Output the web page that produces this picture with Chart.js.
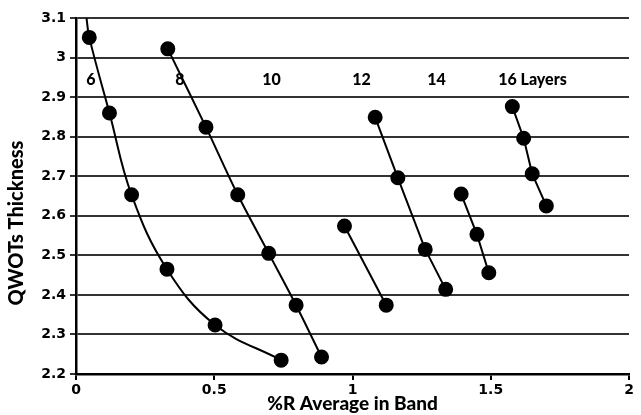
<!DOCTYPE html>
<html>
<head>
    <title>QWOTs Thickness vs %R</title>
    <script src="https://cdn.jsdelivr.net/npm/chart.js"></script>
    <style>
        body {
            margin: 0;
            background: white;
        }
        .chart-container {
            width: 641px;
            height: 415px;
        }
    </style>
</head>
<body>
    <div class="chart-container">
        <canvas id="thicknessChart"></canvas>
    </div>

    <script>
        // layer counts and their curves (x = %R average in band, y = QWOTs thickness)
        const layerLabels = ['6', '8', '10', '12', '14', '16 Layers'];
        const labelX = [0.054, 0.376, 0.707, 1.033, 1.304, 1.651];
        const labelY = 2.944;

        // first point of the 6-layer curve is only the line running off the top
        const r6 = [0.038, 0.048, 0.121, 0.201, 0.329, 0.503, 0.742];
        const t6 = [3.10, 3.051, 2.860, 2.653, 2.465, 2.324, 2.235];
        const r8 = [0.332, 0.470, 0.585, 0.697, 0.796, 0.888];
        const t8 = [3.022, 2.824, 2.653, 2.505, 2.374, 2.243];
        const r10 = [0.971, 1.122];
        const t10 = [2.574, 2.374];
        const r12 = [1.082, 1.164, 1.263, 1.337];
        const t12 = [2.849, 2.696, 2.515, 2.414];
        const r14 = [1.393, 1.450, 1.493];
        const t14 = [2.655, 2.553, 2.456];
        const r16 = [1.578, 1.619, 1.650, 1.701];
        const t16 = [2.876, 2.796, 2.706, 2.625];

        const xTicks = [0, 0.5, 1, 1.5, 2];
        const yTicks = [2.2, 2.3, 2.4, 2.5, 2.6, 2.7, 2.8, 2.9, 3.0, 3.1];

        function toPoints(xs, ys) {
            return xs.map((x, i) => ({ x: x, y: ys[i] }));
        }

        function series(xs, ys, tension, radii) {
            return {
                data: toPoints(xs, ys),
                borderColor: '#000',
                backgroundColor: '#000',
                borderWidth: 2,
                pointRadius: radii || 6.5,
                pointHoverRadius: radii || 6.5,
                tension: tension,
                showLine: true
            };
        }

        const labelPlugin = {
            id: 'layerLabels',
            afterDatasetsDraw(chart) {
                const ctx = chart.ctx;
                const xs = chart.scales.x;
                const ys = chart.scales.y;
                ctx.save();
                ctx.fillStyle = '#000';
                ctx.textAlign = 'center';
                ctx.textBaseline = 'middle';
                ctx.font = '900 16px Lato';
                layerLabels.forEach((txt, i) => {
                    ctx.fillText(txt, xs.getPixelForValue(labelX[i]), ys.getPixelForValue(labelY));
                });
                // y axis title
                ctx.translate(17, 223);
                ctx.rotate(-Math.PI / 2);
                ctx.font = '900 20px Lato';
                ctx.fillText('QWOTs Thickness', 0, 0);
                ctx.restore();
            }
        };

        const config = {
            type: 'scatter',
            data: {
                datasets: [
                    series(r6, t6, 0.4, [0, 6.5, 6.5, 6.5, 6.5, 6.5, 6.5]),
                    series(r8, t8, 0.3),
                    series(r10, t10, 0),
                    series(r12, t12, 0),
                    series(r14, t14, 0),
                    series(r16, t16, 0)
                ]
            },
            options: {
                responsive: true,
                maintainAspectRatio: false,
                animation: false,
                layout: { padding: { top: 18, right: 12, left: 0, bottom: 0 } },
                plugins: {
                    legend: { display: false },
                    tooltip: { enabled: false }
                },
                scales: {
                    x: {
                        type: 'linear',
                        min: 0,
                        max: 2,
                        afterBuildTicks: (s) => { s.ticks = xTicks.map(v => ({ value: v })); },
                        afterFit: (s) => { s.height = 41; },
                        grid: { drawOnChartArea: false, drawTicks: true, tickLength: 6, color: '#000', lineWidth: 2 },
                        border: { color: '#000', width: 2.5 },
                        ticks: {
                            color: '#000',
                            padding: 2,
                            font: { family: 'DejaVu Sans', weight: 'bold', size: 14 },
                            callback: (v) => String(+v.toFixed(1))
                        },
                        title: {
                            display: true,
                            text: '%R Average in Band',
                            color: '#000',
                            padding: { top: 0, bottom: 0 },
                            font: { family: 'Lato', weight: '900', size: 19 }
                        }
                    },
                    y: {
                        min: 2.2,
                        max: 3.1,
                        afterBuildTicks: (s) => { s.ticks = yTicks.map(v => ({ value: v })); },
                        afterFit: (s) => { s.width = 76; },
                        grid: { color: '#333', lineWidth: 2, drawTicks: true, tickLength: 6 },
                        border: { color: '#000', width: 2.5 },
                        ticks: {
                            color: '#000',
                            padding: 4,
                            font: { family: 'DejaVu Sans', weight: 'bold', size: 14 },
                            callback: (v) => String(+v.toFixed(1))
                        }
                    }
                }
            },
            plugins: [labelPlugin]
        };

        new Chart(document.getElementById('thicknessChart'), config);
    </script>
</body>
</html>
